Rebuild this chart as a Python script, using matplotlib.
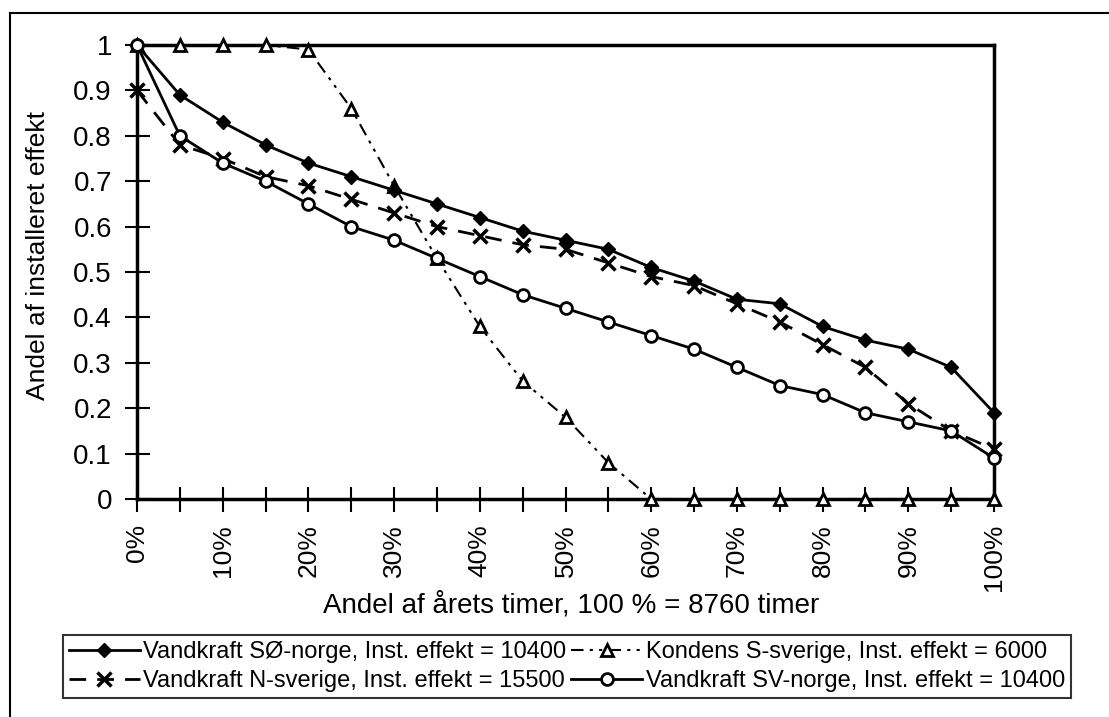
import matplotlib.pyplot as plt
from matplotlib.lines import Line2D
from matplotlib.ticker import MultipleLocator

plt.rcParams['font.family'] = ['Liberation Sans', 'DejaVu Sans']

pct = [0, 5, 10, 15, 20, 25, 30, 35, 40, 45, 50, 55, 60, 65, 70, 75, 80, 85, 90, 95, 100]

so_norge = [1.0, 0.89, 0.83, 0.78, 0.74, 0.71, 0.68, 0.65, 0.62, 0.59, 0.57,
            0.55, 0.51, 0.48, 0.44, 0.43, 0.38, 0.35, 0.33, 0.29, 0.19]
n_sverige = [0.90, 0.78, 0.75, 0.71, 0.69, 0.66, 0.63, 0.60, 0.58, 0.56, 0.55,
             0.52, 0.49, 0.47, 0.43, 0.39, 0.34, 0.29, 0.21, 0.15, 0.11]
kondens = [1.0, 1.0, 1.0, 1.0, 0.99, 0.86, 0.69, 0.53, 0.38, 0.26, 0.18,
           0.08, 0.0, 0.0, 0.0, 0.0, 0.0, 0.0, 0.0, 0.0, 0.0]
sv_norge = [1.0, 0.80, 0.74, 0.70, 0.65, 0.60, 0.57, 0.53, 0.49, 0.45, 0.42,
            0.39, 0.36, 0.33, 0.29, 0.25, 0.23, 0.19, 0.17, 0.15, 0.09]

labels = ["Vandkraft SØ-norge, Inst. effekt = 10400",
          "Vandkraft N-sverige, Inst. effekt = 15500",
          "Kondens S-sverige, Inst. effekt = 6000",
          "Vandkraft SV-norge, Inst. effekt = 10400"]

W, H = 1109, 717
fig = plt.figure(figsize=(W / 100, H / 100), dpi=100)
ax = fig.add_axes([137 / W, 1 - 499 / H, (994 - 137) / W, (499 - 45) / H])

l1, = ax.plot(pct, so_norge, color='black', lw=2, marker='D', ms=7.5,
              mfc='black', clip_on=False, zorder=4)
l2, = ax.plot(pct, n_sverige, color='black', lw=2, ls=(0, (6, 4)), marker='x',
              ms=10, mew=2.5, clip_on=False, zorder=3)
l3, = ax.plot(pct, kondens, color='black', lw=1.5, ls=(0, (6, 3, 1.5, 3, 1.5, 3)),
              marker='^', ms=8, mfc='white', mew=2, clip_on=False, zorder=3)
l4, = ax.plot(pct, sv_norge, color='black', lw=2, marker='o', ms=8.5,
              mfc='white', mew=2, clip_on=False, zorder=4)

ax.set_xlim(0, 100)
ax.set_ylim(0, 1)
ax.xaxis.set_major_locator(MultipleLocator(10))
ax.xaxis.set_minor_locator(MultipleLocator(5))
ax.yaxis.set_major_locator(MultipleLocator(0.1))
ax.set_xticklabels([f"{int(v)}%" for v in ax.get_xticks()], rotation=90)
ax.set_yticklabels([f"{round(t, 1):g}" for t in ax.get_yticks()])
ax.tick_params(axis='both', which='both', direction='inout', length=18, width=1.5,
               labelsize=20)
ax.tick_params(axis='y', pad=9)
ax.tick_params(axis='x', pad=9, labelsize=19)
for s in ax.spines.values():
    s.set_linewidth(2.5)

ax.set_ylabel("Andel af installeret effekt", fontsize=19)
ax.yaxis.set_label_coords(-0.101, 0.537)
ax.set_xlabel("Andel af årets timer, 100 % = 8760 timer", fontsize=20)
ax.xaxis.set_label_coords(0.506, -0.205)

leg = fig.legend([l1, l2, l3, l4], labels, ncol=2, loc='upper left',
                 bbox_to_anchor=(63 / W, 1 - 635 / H), fontsize=17,
                 frameon=True, fancybox=False, edgecolor='black', handlelength=3,
                 columnspacing=0.2, handletextpad=0.15, borderpad=0.25,
                 labelspacing=0.3, borderaxespad=0)
leg.get_frame().set_linewidth(1.5)

# outer chart frame: only the top and left edges are visible
fig.add_artist(Line2D([10 / W, 1], [1 - 13 / H, 1 - 13 / H], transform=fig.transFigure,
                      color='black', lw=1.5))
fig.add_artist(Line2D([10 / W, 10 / W], [0, 1 - 13 / H], transform=fig.transFigure,
                      color='black', lw=1.5))

fig.savefig("out.png", dpi=100)
